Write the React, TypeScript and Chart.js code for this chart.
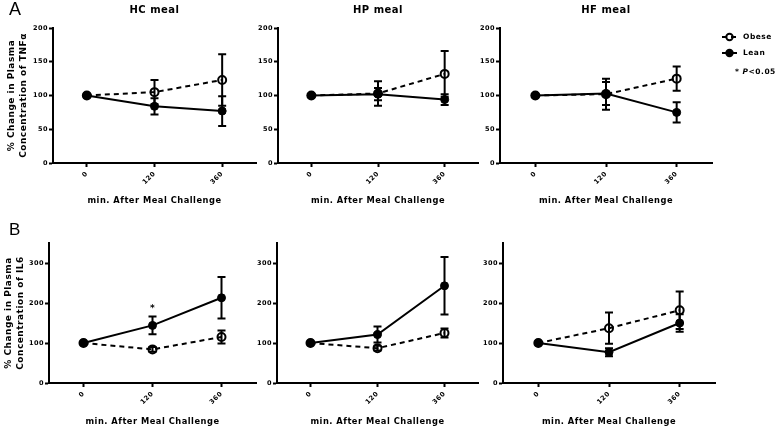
import React, { useEffect, useRef } from 'react';
import { Chart, registerables } from 'chart.js';

Chart.register(...registerables);

// ---------- data ----------
const timepoints = ['0', '120', '360'];

// TNFα (% change)
const tnfHcObese = [100, 105, 123];
const tnfHcObeseErr = [0, 18, 38];
const tnfHcLean = [100, 84, 77];
const tnfHcLeanErr = [0, 12, 22];

const tnfHpObese = [100, 103, 132];
const tnfHpObeseErr = [0, 18, 34];
const tnfHpLean = [100, 102, 94];
const tnfHpLeanErr = [0, 9, 8];

const tnfHfObese = [100, 102, 125];
const tnfHfObeseErr = [0, 23, 18];
const tnfHfLean = [100, 103, 75];
const tnfHfLeanErr = [0, 17, 15];

// IL6 (% change)
const il6HcObese = [100, 84, 115];
const il6HcObeseErr = [0, 6, 16];
const il6HcLean = [100, 144, 213];
const il6HcLeanErr = [0, 22, 52];
const il6HcLeanSig = ['', '*', ''];

const il6HpObese = [100, 87, 125];
const il6HpObeseErr = [0, 6, 11];
const il6HpLean = [100, 121, 243];
const il6HpLeanErr = [0, 20, 72];

const il6HfObese = [100, 137, 182];
const il6HfObeseErr = [0, 39, 47];
const il6HfLean = [100, 77, 150];
const il6HfLeanErr = [0, 10, 22];

const mealTitles = ['HC meal', 'HP meal', 'HF meal'];
const seriesNames = ['Obese', 'Lean'];
const xAxisTitle = 'min. After Meal Challenge';
const yTitleTnf = ['% Change in Plasma', 'Concentration of TNFα'];
const yTitleIl6 = ['% Change in Plasma', 'Concentration of IL6'];
const tnfTicks = { max: 200, step: 50 };
const il6Ticks = { max: 350, step: 100 };
const sigNote = ['* ', 'P', '<0.05'];

const FAMILY = '"DejaVu Sans", "Liberation Sans", sans-serif';
const LETTER_FAMILY = '"Liberation Sans", Arial, sans-serif';

// letter spacing emulation (GraphPad-like spaced text)
const spacingFor = (font: string) => {
  const m = /([\d.]+)px/.exec(font);
  const s = m ? parseFloat(m[1]) : 10;
  return s < 12 ? '0.5px' : '0px';
};

const letterSpacingPlugin = {
  id: 'letterSpacingEmu',
  beforeInit(chart: any) {
    const ctx = chart.ctx as any;
    if (ctx.__wrapped) return;
    ctx.__wrapped = true;
    const fill = ctx.fillText.bind(ctx);
    const measure = ctx.measureText.bind(ctx);
    ctx.fillText = (t: string, x: number, y: number, w?: number) => {
      ctx.letterSpacing = spacingFor(ctx.font);
      return w === undefined ? fill(t, x, y) : fill(t, x, y, w);
    };
    ctx.measureText = (t: string) => {
      ctx.letterSpacing = spacingFor(ctx.font);
      return measure(t);
    };
  },
};

const errorBarPlugin = {
  id: 'errorBars',
  afterDatasetsDraw(chart: any) {
    const ctx = chart.ctx;
    const ys = chart.scales.y;
    chart.data.datasets.forEach((ds: any, i: number) => {
      const meta = chart.getDatasetMeta(i);
      meta.data.forEach((pt: any, j: number) => {
        const e = ds.errors ? ds.errors[j] : 0;
        const v = ds.data[j];
        const top = ys.getPixelForValue(v + (e || 0));
        if (e) {
          const bot = ys.getPixelForValue(v - e);
          ctx.save();
          ctx.strokeStyle = '#000';
          ctx.lineWidth = 2;
          ctx.setLineDash([]);
          ctx.beginPath();
          ctx.moveTo(pt.x, top);
          ctx.lineTo(pt.x, bot);
          ctx.moveTo(pt.x - 4, top);
          ctx.lineTo(pt.x + 4, top);
          ctx.moveTo(pt.x - 4, bot);
          ctx.lineTo(pt.x + 4, bot);
          ctx.stroke();
          ctx.restore();
        }
        if (ds.sig && ds.sig[j]) {
          ctx.save();
          ctx.fillStyle = '#000';
          ctx.font = `bold 9px ${FAMILY}`;
          ctx.textAlign = 'center';
          ctx.textBaseline = 'alphabetic';
          ctx.fillText(ds.sig[j], pt.x, top - 6);
          ctx.restore();
        }
      });
    });
  },
};

type PanelProps = {
  left: number;
  top: number;
  width: number;
  height: number;
  yAxisWidth: number;
  padTop: number;
  padRight: number;
  xAxisHeight: number;
  xTitlePad: number;
  title?: string;
  yTitle?: string[];
  yTitlePad?: number;
  yMax: number;
  yStep: number;
  obese: number[];
  obeseErr: number[];
  lean: number[];
  leanErr: number[];
  leanSig?: string[];
  letter?: string;
  letterFont?: number;
  letterY?: number;
  legend?: boolean;
};

function Panel(p: PanelProps) {
  const ref = useRef<HTMLCanvasElement | null>(null);
  useEffect(() => {
    if (!ref.current) return;
    const extraPlugins: any[] = [letterSpacingPlugin, errorBarPlugin];
    if (p.letter) {
      extraPlugins.push({
        id: 'panelLetter',
        afterDraw(chart: any) {
          const ctx = chart.ctx;
          ctx.save();
          ctx.fillStyle = '#000';
          ctx.font = `normal ${p.letterFont}px ${LETTER_FAMILY}`;
          ctx.textAlign = 'left';
          ctx.textBaseline = 'alphabetic';
          ctx.fillText(p.letter, 9, p.letterY);
          ctx.restore();
        },
      });
    }
    if (p.legend) {
      extraPlugins.push({
        id: 'sideLegend',
        afterDraw(chart: any) {
          const ctx = chart.ctx;
          const x0 = 722 - p.left;
          ctx.save();
          chart.data.datasets.forEach((ds: any, i: number) => {
            const y = 37 + i * 16;
            ctx.strokeStyle = '#000';
            ctx.lineWidth = 2;
            ctx.setLineDash(ds.borderDash || []);
            ctx.beginPath();
            ctx.moveTo(x0, y);
            ctx.lineTo(x0 + 15, y);
            ctx.stroke();
            ctx.setLineDash([]);
            ctx.beginPath();
            ctx.arc(x0 + 7.5, y, 3.2, 0, Math.PI * 2);
            ctx.fillStyle = ds.pointBackgroundColor;
            ctx.fill();
            ctx.stroke();
            ctx.fillStyle = '#000';
            ctx.font = `bold 7.5px ${FAMILY}`;
            ctx.textAlign = 'left';
            ctx.textBaseline = 'middle';
            ctx.fillText(ds.label, x0 + 21, y);
          });
          // significance note
          let x = 735 - p.left;
          const y = 72;
          ctx.fillStyle = '#000';
          ctx.textBaseline = 'middle';
          ctx.textAlign = 'left';
          sigNote.forEach((s, k) => {
            ctx.font = k === 1 ? `italic bold 7.5px ${FAMILY}` : `bold 7.5px ${FAMILY}`;
            ctx.fillText(s, x, y);
            x += ctx.measureText(s).width;
          });
          ctx.restore();
        },
      });
    }

    const tickFont = { family: FAMILY, size: 6.5, weight: 'bold' as const };
    const chart = new Chart(ref.current, {
      type: 'line',
      data: {
        labels: timepoints,
        datasets: [
          {
            label: seriesNames[0],
            data: p.obese,
            errors: p.obeseErr,
            borderColor: '#000',
            borderWidth: 2,
            borderDash: [5, 4],
            pointRadius: 4,
            pointBorderWidth: 2,
            pointBorderColor: '#000',
            pointBackgroundColor: 'rgba(255,255,255,0)',
            tension: 0,
            fill: false,
          } as any,
          {
            label: seriesNames[1],
            data: p.lean,
            errors: p.leanErr,
            sig: p.leanSig,
            borderColor: '#000',
            borderWidth: 2,
            pointRadius: 4,
            pointBorderWidth: 1,
            pointBorderColor: '#000',
            pointBackgroundColor: '#000',
            tension: 0,
            fill: false,
          } as any,
        ],
      },
      options: {
        animation: false,
        responsive: false,
        maintainAspectRatio: false,
        devicePixelRatio: 1,
        layout: {
          padding: { top: p.title ? 0 : p.padTop, right: p.padRight, left: 0, bottom: 0 },
        },
        plugins: {
          legend: { display: false },
          tooltip: { enabled: false },
          title: {
            display: !!p.title,
            text: p.title || '',
            fullSize: false,
            color: '#000',
            font: { family: FAMILY, size: 10, weight: 'bold', lineHeight: 1.2 },
            padding: { top: 4, bottom: p.padTop - 16 },
          },
        },
        scales: {
          x: {
            type: 'category',
            offset: true,
            grid: {
              display: true,
              drawOnChartArea: false,
              drawTicks: true,
              tickLength: 4,
              tickWidth: 2,
              tickColor: '#000',
              color: '#000',
              offset: false,
            },
            border: { display: true, color: '#000', width: 2 },
            ticks: {
              color: '#000',
              font: tickFont,
              maxRotation: 45,
              minRotation: 45,
              autoSkip: false,
              padding: 3,
            },
            title: {
              display: true,
              text: xAxisTitle,
              color: '#000',
              font: { family: FAMILY, size: 8.3, weight: 'bold', lineHeight: 1.2 },
              padding: { top: 0, bottom: p.xTitlePad },
            },
            afterFit: (s: any) => {
              s.height = p.xAxisHeight;
            },
          },
          y: {
            type: 'linear',
            min: 0,
            max: p.yMax,
            grid: {
              display: true,
              drawOnChartArea: false,
              drawTicks: true,
              tickLength: 4,
              tickWidth: 2,
              tickColor: '#000',
              color: '#000',
            },
            border: { display: true, color: '#000', width: 2 },
            ticks: {
              stepSize: p.yStep,
              color: '#000',
              font: tickFont,
              padding: 1,
            },
            title: {
              display: !!p.yTitle,
              text: p.yTitle || '',
              color: '#000',
              font: { family: FAMILY, size: 9, weight: 'bold', lineHeight: 1.333 },
              padding: { top: p.yTitlePad || 0, bottom: 0 },
            },
            afterFit: (s: any) => {
              s.width = p.yAxisWidth;
            },
            afterBuildTicks: (s: any) => {
              s.ticks = s.ticks.filter((t: any) => t.value % p.yStep === 0);
            },
          },
        },
      } as any,
      plugins: extraPlugins,
    });
    return () => chart.destroy();
  }, []);

  return (
    <canvas
      ref={ref}
      width={p.width}
      height={p.height}
      style={{ position: 'absolute', left: p.left, top: p.top, width: p.width, height: p.height }}
    />
  );
}

export default function App() {
  const rowA = { top: 0, height: 210, padTop: 28, xAxisHeight: 47, xTitlePad: 4.6, yMax: tnfTicks.max, yStep: tnfTicks.step };
  const rowB = { top: 210, height: 218, padTop: 33, xAxisHeight: 45, xTitlePad: 1, yMax: il6Ticks.max, yStep: il6Ticks.step };
  return (
    <div style={{ position: 'absolute', left: 0, top: 0, width: 779, height: 428, background: '#fff', overflow: 'hidden' }}>
      <Panel {...rowA} left={0} width={262} yAxisWidth={53} padRight={2} title={mealTitles[0]}
        yTitle={yTitleTnf} yTitlePad={5.5}
        obese={tnfHcObese} obeseErr={tnfHcObeseErr} lean={tnfHcLean} leanErr={tnfHcLeanErr}
        letter="A" letterFont={18} letterY={15} />
      <Panel {...rowA} left={248} width={236} yAxisWidth={30} padRight={2} title={mealTitles[1]}
        obese={tnfHpObese} obeseErr={tnfHpObeseErr} lean={tnfHpLean} leanErr={tnfHpLeanErr} />
      <Panel {...rowA} left={470} width={309} yAxisWidth={30} padRight={67} title={mealTitles[2]}
        obese={tnfHfObese} obeseErr={tnfHfObeseErr} lean={tnfHfLean} leanErr={tnfHfLeanErr} legend />
      <Panel {...rowB} left={0} width={262} yAxisWidth={49} padRight={2}
        yTitle={yTitleIl6} yTitlePad={2.5}
        obese={il6HcObese} obeseErr={il6HcObeseErr} lean={il6HcLean} leanErr={il6HcLeanErr} leanSig={il6HcLeanSig}
        letter="B" letterFont={17} letterY={25} />
      <Panel {...rowB} left={247} width={237} yAxisWidth={30} padRight={2}
        obese={il6HpObese} obeseErr={il6HpObeseErr} lean={il6HpLean} leanErr={il6HpLeanErr} />
      <Panel {...rowB} left={473} width={306} yAxisWidth={30} padRight={64}
        obese={il6HfObese} obeseErr={il6HfObeseErr} lean={il6HfLean} leanErr={il6HfLeanErr} />
    </div>
  );
}
